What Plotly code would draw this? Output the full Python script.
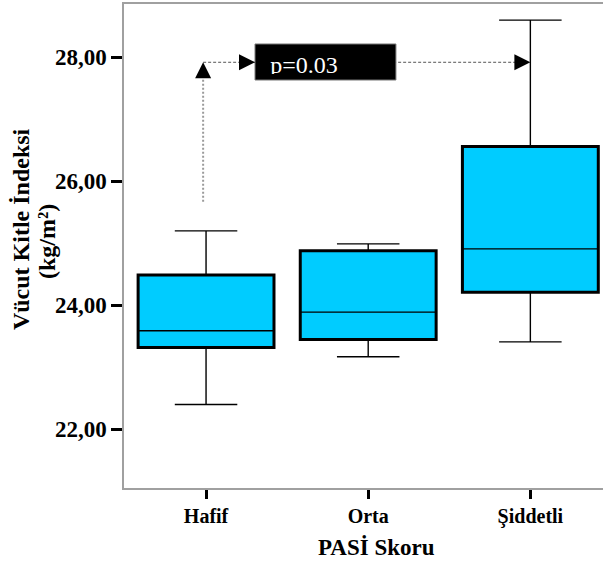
import plotly.graph_objects as go

# PASİ severity groups and BMI summary statistics (kg/m²)
categories = ["Hafif", "Orta", "Şiddetli"]
lower_whisker = [22.40, 23.17, 23.41]
q1 = [23.32, 23.45, 24.21]
median = [23.59, 23.89, 24.91]
q3 = [24.49, 24.88, 26.56]
upper_whisker = [25.20, 24.99, 28.60]

y_tick_values = [22, 24, 26, 28]
y_tick_labels = ["22,00", "24,00", "26,00", "28,00"]

p_text = "p=0.03"
bracket_level = 27.92
bracket_start = 25.67

positions = list(range(len(categories)))
box_width = 0.838
FILL = "#00CCFF"
SERIF = "Liberation Serif, Times New Roman, serif"
AXIS_GREY = "#a0a0a0"

fig = go.Figure()

# filled IQR box with heavy outline
fig.add_trace(go.Bar(
    x=positions,
    y=[b - a for a, b in zip(q1, q3)],
    base=q1,
    width=box_width,
    marker=dict(color=FILL, line=dict(color="black", width=3)),
    hoverinfo="skip",
    showlegend=False,
))

# median line and whiskers
fig.add_trace(go.Box(
    x=positions,
    q1=q1,
    median=median,
    q3=q3,
    lowerfence=lower_whisker,
    upperfence=upper_whisker,
    width=box_width,
    whiskerwidth=0.46,
    fillcolor="rgba(0,0,0,0)",
    line=dict(color="black", width=1.4),
    boxpoints=False,
    hoverinfo="skip",
    showlegend=False,
))

left_x = positions[0] - 0.018
right_x = positions[2]
label_left, label_right = 0.302, 1.171

shapes = [
    # vertical dotted riser above the first group
    dict(type="line", xref="x", yref="y", x0=left_x, x1=left_x,
         y0=bracket_start, y1=bracket_level - 0.25,
         line=dict(color="#9a9a9a", width=2, dash="2px,2px")),
    # horizontal dotted connector
    dict(type="line", xref="x", yref="y", x0=left_x, x1=right_x - 0.05,
         y0=bracket_level, y1=bracket_level,
         line=dict(color="#555555", width=1, dash="3px,2px")),
    # black label plate
    dict(type="rect", xref="x", yref="y", x0=label_left, x1=label_right,
         y0=27.634, y1=28.215, fillcolor="black",
         line=dict(color="#777777", width=1)),
]

arrow_common = dict(xref="x", yref="y", text="", showarrow=True,
                    arrowhead=2, arrowsize=3.2, arrowwidth=1,
                    arrowcolor="black", standoff=0)

annotations = [
    dict(x=left_x, y=bracket_level, ax=0, ay=15, **arrow_common),
    dict(x=label_left, y=bracket_level, ax=-14, ay=0, **arrow_common),
    dict(x=right_x, y=bracket_level, ax=-14, ay=0, **arrow_common),
    # p-value text, clipped near its baseline by the fixed box height
    dict(x=0.601, y=28.095, xref="x", yref="y", text=p_text,
         showarrow=False, xanchor="center", yanchor="top",
         width=90, height=22, valign="top", borderpad=0,
         font=dict(family=SERIF, size=24, color="white")),
    # axis titles
    dict(x=0.528, y=-0.122, xref="paper", yref="paper",
         text="<b>PASİ Skoru</b>", showarrow=False,
         xanchor="center", yanchor="middle",
         font=dict(family=SERIF, size=23, color="black")),
    dict(x=-0.215, y=0.535, xref="paper", yref="paper",
         text="<b>Vücut Kitle İndeksi</b>", showarrow=False, textangle=-90,
         xanchor="center", yanchor="middle",
         font=dict(family=SERIF, size=24, color="black")),
    dict(x=-0.161, y=0.510, xref="paper", yref="paper",
         text="<b>(kg/m²)</b>", showarrow=False, textangle=-90,
         xanchor="center", yanchor="middle",
         font=dict(family=SERIF, size=24, color="black")),
]

fig.update_layout(
    width=603,
    height=564,
    margin=dict(l=124, r=0, t=4, b=76),
    paper_bgcolor="white",
    plot_bgcolor="white",
    showlegend=False,
    shapes=shapes,
    annotations=annotations,
    xaxis=dict(
        range=[-0.506, 2.448],
        tickvals=positions,
        ticktext=[f"<b>{c}</b>" for c in categories],
        tickfont=dict(family=SERIF, size=20, color="black"),
        ticks="outside", ticklen=9, tickwidth=3, tickcolor="black",
        showline=True, linecolor=AXIS_GREY, linewidth=1.5, mirror=True,
        showgrid=False, zeroline=False, fixedrange=True,
    ),
    yaxis=dict(
        range=[21.053, 28.86],
        tickvals=y_tick_values,
        ticktext=[f"<b>{t}</b>" for t in y_tick_labels],
        tickfont=dict(family=SERIF, size=23, color="black"),
        ticks="outside", ticklen=11, tickwidth=3, tickcolor="black",
        showline=True, linecolor=AXIS_GREY, linewidth=1.5,
        showgrid=False, zeroline=False, fixedrange=True,
    ),
)

fig.write_html("out.html", config={"displayModeBar": False})
